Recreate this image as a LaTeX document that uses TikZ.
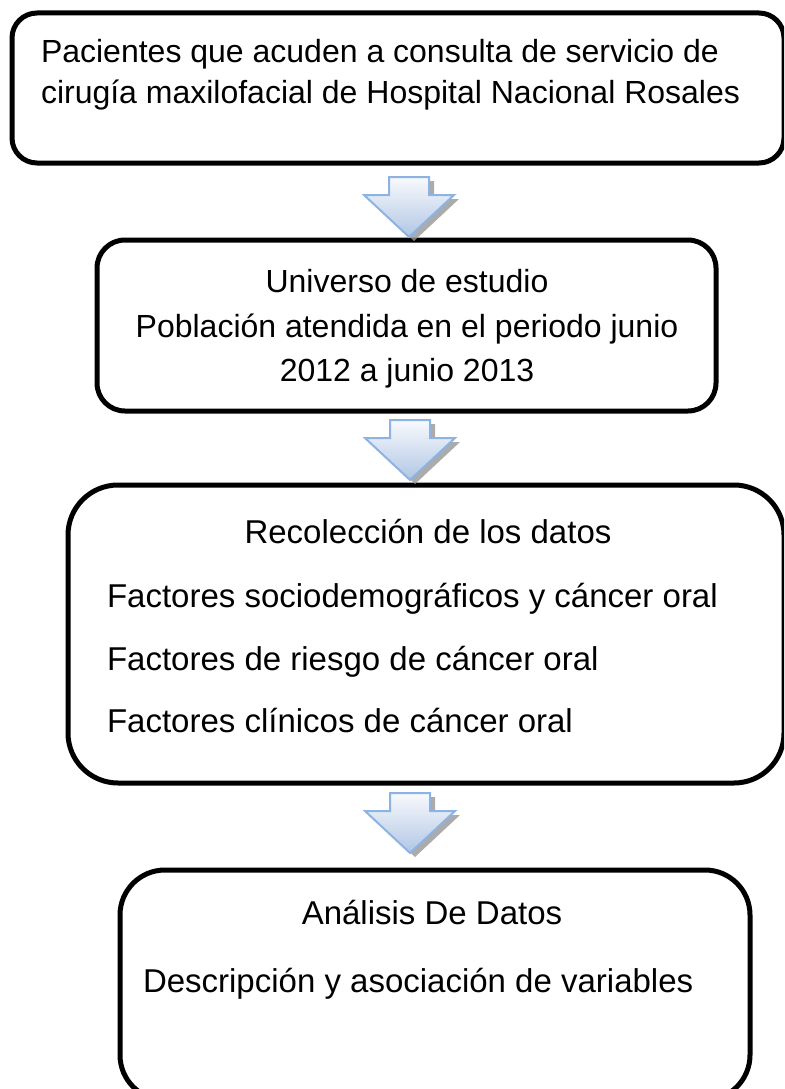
\documentclass[tikz,border=0pt]{standalone}
\usepackage{fontspec}
\setmainfont{Liberation Sans}
\usetikzlibrary{calc}
\definecolor{arrowline}{RGB}{141,179,226}
\definecolor{arrowlow}{RGB}{176,198,228}
\definecolor{arrowtop}{RGB}{248,250,253}
\definecolor{shadowgray}{RGB}{150,150,150}
\tikzset{
  flowbox/.style={draw=black, line width=5pt, rectangle, inner sep=0pt, outer sep=0pt},
  flowtext/.style={inner sep=0pt, outer sep=0pt, font=\fontsize{32}{44}\selectfont},
  flowtextbig/.style={inner sep=0pt, outer sep=0pt, font=\fontsize{33}{44}\selectfont},
  arrowshadow/.style={fill=shadowgray, draw=none, opacity=0.8},
  arrowbody/.style={top color=arrowtop, bottom color=arrowlow, draw=arrowline, line width=2pt, line join=miter}
}
\newcommand{\blockarrowat}[1]{%
  \path[arrowshadow] ($(#1)+(5,4)$) ++(-20,0) -- ++(40,0) -- ++(0,18) -- ++(25,0) -- ++(-45,42) -- ++(-45,-42) -- ++(25,0) -- cycle;
  \path[arrowbody] (#1) ++(-20,0) -- ++(40,0) -- ++(0,18) -- ++(25,0) -- ++(-45,42) -- ++(-45,-42) -- ++(25,0) -- cycle;
}
\begin{document}
\begin{tikzpicture}[x=1pt,y=-1pt]
\useasboundingbox (0,0) rectangle (784,1089);
\clip (0,0) rectangle (784,1089);
% boxes
\node[flowbox, rounded corners=25pt, minimum width=772pt, minimum height=150pt] (b1) at (398,88) {};
\node[flowbox, rounded corners=28pt, minimum width=619pt, minimum height=171pt] (b2) at (406.5,325.5) {};
\node[flowbox, rounded corners=50pt, minimum width=716pt, minimum height=298pt] (b3) at (426,634) {};
\node[flowbox, rounded corners=45pt, minimum width=630pt, minimum height=230pt] (b4) at (435,985) {};
% texts
\node[flowtext, anchor=base west] (t1a) at (41,63) {Pacientes que acuden a consulta de servicio de};
\node[flowtext, anchor=base west] (t1b) at (41,104) {cirugía maxilofacial de Hospital Nacional Rosales};
\node[flowtext, anchor=base] (t2a) at (407,292) {Universo de estudio};
\node[flowtext, anchor=base] (t2b) at (407,337) {Población atendida en el periodo junio};
\node[flowtext, anchor=base] (t2c) at (407,381) {2012 a junio 2013};
\node[flowtextbig, anchor=base] (t3a) at (428,543) {Recolección de los datos};
\node[flowtextbig, anchor=base west] (t3b) at (107,607) {Factores sociodemográficos y cáncer oral};
\node[flowtextbig, anchor=base west] (t3c) at (107,670) {Factores de riesgo de cáncer oral};
\node[flowtextbig, anchor=base west] (t3d) at (107,732) {Factores clínicos de cáncer oral};
\node[flowtextbig, anchor=base] (t4a) at (432,924) {Análisis De Datos};
\node[flowtextbig, anchor=base west] (t4b) at (143,992) {Descripción y asociación de variables};
% arrows
\coordinate (a1) at (409,177);
\coordinate (a2) at (410,420);
\coordinate (a3) at (410,793);
\blockarrowat{a1}
\blockarrowat{a2}
\blockarrowat{a3}
\end{tikzpicture}
\end{document}
